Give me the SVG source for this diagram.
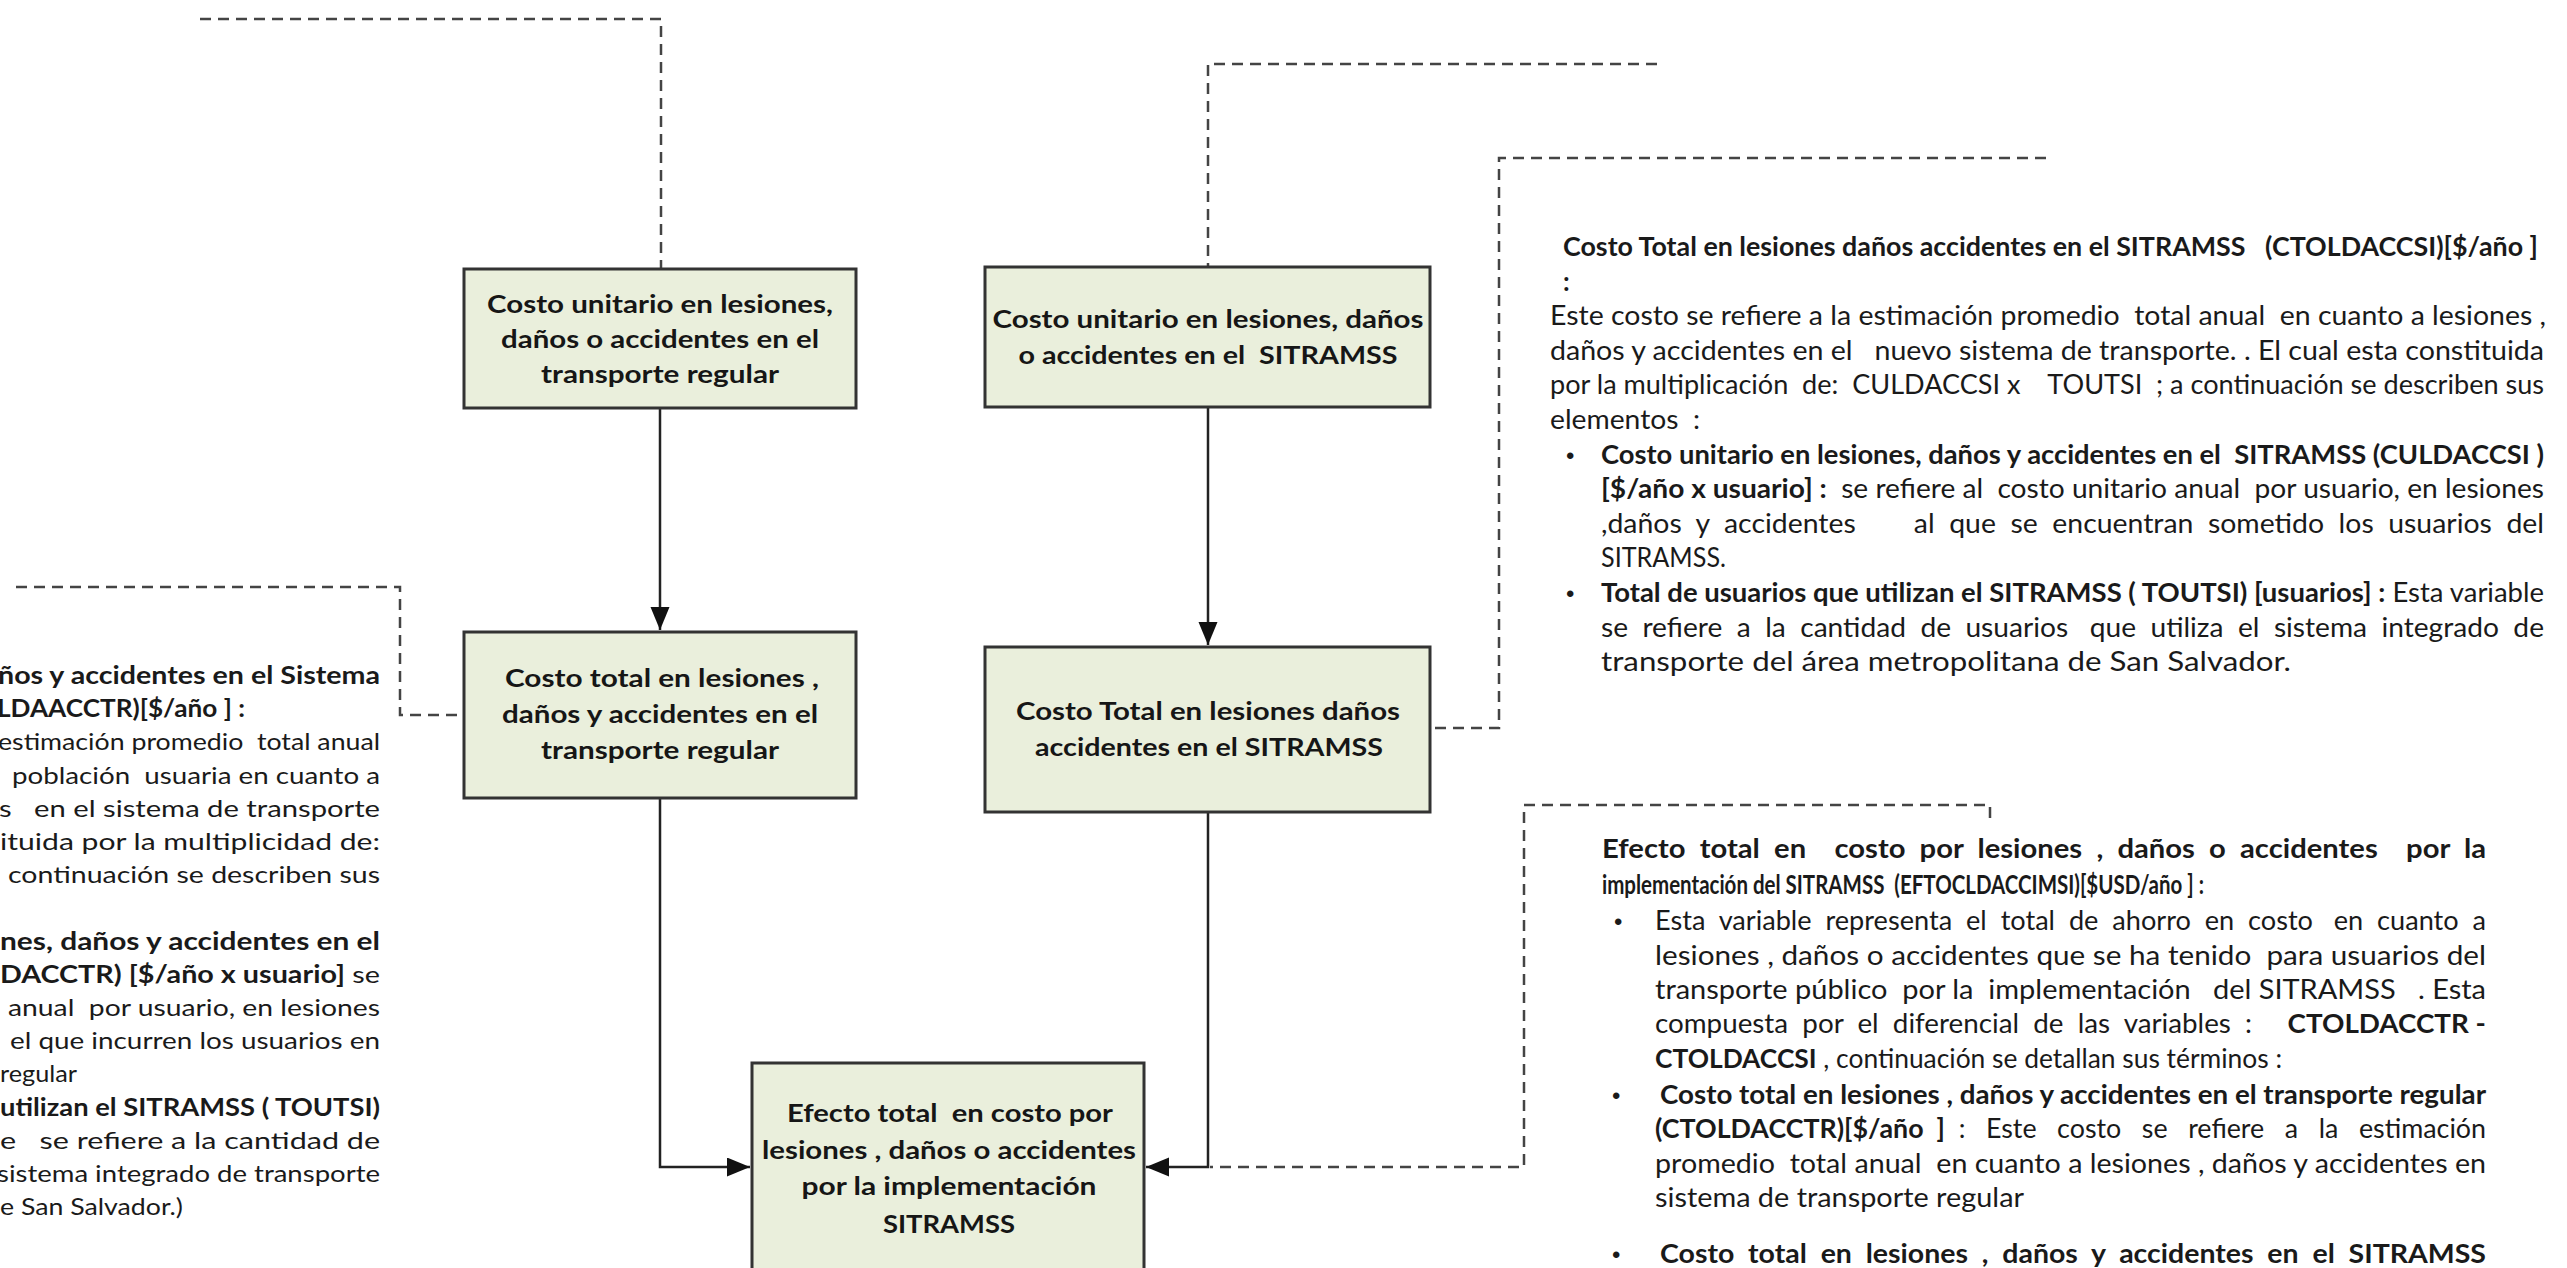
<svg xmlns="http://www.w3.org/2000/svg" width="2567" height="1268" viewBox="0 0 2567 1268">
  <style>
    text { white-space: pre; }
    .box { fill: #eaefdc; stroke: #333333; stroke-width: 3; }
    .bt { font-family: Lato, "Liberation Sans", sans-serif; font-weight: 700; font-size: 25px; fill: #161616; text-anchor: middle; }
    .tx { font-family: Lato, "Liberation Sans", sans-serif; font-size: 24px; fill: #1a1a1a; }
    .rt { font-family: Lato, "Liberation Sans", sans-serif; font-size: 26px; fill: #1a1a1a; }
    .b { font-weight: 700; }
    .blt { font-family: "Liberation Sans", sans-serif; font-size: 24px; fill: #1a1a1a; }
    .dash { fill: none; stroke: #444444; stroke-width: 2.5; stroke-dasharray: 11 7; }
    .solid { fill: none; stroke: #222222; stroke-width: 2.5; }
  </style>
  <defs>
    <marker id="arrow" markerUnits="userSpaceOnUse" markerWidth="24" markerHeight="20" refX="23" refY="9.5" orient="auto">
      <path d="M0,0 L23,9.5 L0,19 z" fill="#111111"/>
    </marker>
  </defs>
  <rect width="2567" height="1268" fill="#ffffff"/>

  <!-- connectors -->
  <g id="connectors">
    <path class="solid" d="M660,408 V630" marker-end="url(#arrow)"/>
    <path class="solid" d="M1208,407 V645" marker-end="url(#arrow)"/>
    <path class="solid" d="M660,798 V1167 H750" marker-end="url(#arrow)"/>
    <path class="solid" d="M1208,812 V1167 H1146" marker-end="url(#arrow)"/>
    <path class="dash" d="M200,19 H661 V269"/>
    <path class="dash" d="M1657,64 H1208 V267"/>
    <path class="dash" d="M2046,158 H1499 V728 H1430"/>
    <path class="dash" d="M16,587 H400 V715 H464"/>
    <path class="dash" d="M1990,818 V805 H1524 V1167 H1210"/>
  </g>

  <!-- nodes -->
  <g id="node-unit-regular">
    <rect class="box" x="464" y="269" width="392" height="139"/>
    <text class="bt" x="660" y="313" textLength="346" lengthAdjust="spacingAndGlyphs">Costo unitario en lesiones,</text>
    <text class="bt" x="660" y="348" textLength="318" lengthAdjust="spacingAndGlyphs">daños o accidentes en el</text>
    <text class="bt" x="660" y="383" textLength="238" lengthAdjust="spacingAndGlyphs">transporte regular</text>
  </g>
  <g id="node-total-regular">
    <rect class="box" x="464" y="632" width="392" height="166"/>
    <text class="bt" x="662" y="687" textLength="314" lengthAdjust="spacingAndGlyphs">Costo total en lesiones ,</text>
    <text class="bt" x="660" y="723" textLength="316" lengthAdjust="spacingAndGlyphs">daños y accidentes en el</text>
    <text class="bt" x="660" y="759" textLength="238" lengthAdjust="spacingAndGlyphs">transporte regular</text>
  </g>
  <g id="node-unit-sitramss">
    <rect class="box" x="985" y="267" width="445" height="140"/>
    <text class="bt" x="1208" y="328" textLength="431" lengthAdjust="spacingAndGlyphs">Costo unitario en lesiones, daños</text>
    <text class="bt" x="1208" y="364" textLength="379" lengthAdjust="spacingAndGlyphs">o accidentes en el  SITRAMSS</text>
  </g>
  <g id="node-total-sitramss">
    <rect class="box" x="985" y="647" width="445" height="165"/>
    <text class="bt" x="1208" y="720" textLength="384" lengthAdjust="spacingAndGlyphs">Costo Total en lesiones daños</text>
    <text class="bt" x="1209" y="756" textLength="348" lengthAdjust="spacingAndGlyphs">accidentes en el SITRAMSS</text>
  </g>
  <g id="node-effect">
    <rect class="box" x="752" y="1063" width="392" height="215"/>
    <text class="bt" x="950" y="1122" textLength="326" lengthAdjust="spacingAndGlyphs">Efecto total  en costo por</text>
    <text class="bt" x="949" y="1159" textLength="374" lengthAdjust="spacingAndGlyphs">lesiones , daños o accidentes</text>
    <text class="bt" x="949" y="1195" textLength="295" lengthAdjust="spacingAndGlyphs">por la implementación</text>
    <text class="bt" x="949" y="1233" textLength="132" lengthAdjust="spacingAndGlyphs">SITRAMSS</text>
  </g>

  <!-- description: total cost in regular transport (left) -->
  <g id="note-regular">
    <text class="tx b" x="-2" y="684" textLength="382" lengthAdjust="spacingAndGlyphs">ños y accidentes en el Sistema</text>
    <text class="tx b" x="-3" y="717" textLength="248" lengthAdjust="spacingAndGlyphs">LDAACCTR)[$/año ] :</text>
    <text class="tx" x="-2" y="750" textLength="382" lengthAdjust="spacingAndGlyphs">estimación promedio  total anual</text>
    <text class="tx" x="12" y="784" textLength="368" lengthAdjust="spacingAndGlyphs">población  usuaria en cuanto a</text>
    <text class="tx" x="-1" y="817" textLength="381" lengthAdjust="spacingAndGlyphs">s   en el sistema de transporte</text>
    <text class="tx" x="0" y="850" textLength="380" lengthAdjust="spacingAndGlyphs">ituida por la multiplicidad de:</text>
    <text class="tx" x="8" y="883" textLength="372" lengthAdjust="spacingAndGlyphs">continuación se describen sus</text>
    <text class="tx b" x="0" y="950" textLength="380" lengthAdjust="spacingAndGlyphs">nes, daños y accidentes en el</text>
    <text class="tx" x="0" y="983" textLength="380" lengthAdjust="spacingAndGlyphs"><tspan class="b">DACCTR) [$/año x usuario]</tspan> se</text>
    <text class="tx" x="8" y="1016" textLength="372" lengthAdjust="spacingAndGlyphs">anual  por usuario, en lesiones</text>
    <text class="tx" x="10" y="1049" textLength="370" lengthAdjust="spacingAndGlyphs">el que incurren los usuarios en</text>
    <text class="tx" x="0" y="1082" textLength="77" lengthAdjust="spacingAndGlyphs">regular</text>
    <text class="tx b" x="0" y="1116" textLength="380" lengthAdjust="spacingAndGlyphs">utilizan el SITRAMSS ( TOUTSI)</text>
    <text class="tx" x="0" y="1149" textLength="380" lengthAdjust="spacingAndGlyphs">e   se refiere a la cantidad de</text>
    <text class="tx" x="-3" y="1182" textLength="383" lengthAdjust="spacingAndGlyphs">sistema integrado de transporte</text>
    <text class="tx" x="0" y="1215" textLength="183" lengthAdjust="spacingAndGlyphs">e San Salvador.)</text>
  </g>

  <!-- description: total cost in SITRAMSS (right, top) -->
  <g id="note-sitramss">
    <text class="rt b" x="1563" y="256" textLength="975" lengthAdjust="spacingAndGlyphs">Costo Total en lesiones daños accidentes en el SITRAMSS   (CTOLDACCSI)[$/año ]</text>
    <text class="rt b" x="1563" y="291">:</text>
    <text class="rt" x="1550" y="325" textLength="996" lengthAdjust="spacingAndGlyphs">Este costo se refiere a la estimación promedio  total anual  en cuanto a lesiones ,</text>
    <text class="rt" x="1550" y="360" textLength="994" lengthAdjust="spacingAndGlyphs">daños y accidentes en el   nuevo sistema de transporte. . El cual esta constituida</text>
    <text class="rt" x="1550" y="394" textLength="994" lengthAdjust="spacingAndGlyphs">por la multiplicación  de:  CULDACCSI x    TOUTSI  ; a continuación se describen sus</text>
    <text class="rt" x="1550" y="429" textLength="150" lengthAdjust="spacingAndGlyphs">elementos  :</text>
    <text class="blt" x="1566" y="464">•</text>
    <text class="rt b" x="1601" y="464" textLength="943" lengthAdjust="spacingAndGlyphs">Costo unitario en lesiones, daños y accidentes en el  SITRAMSS (CULDACCSI )</text>
    <text class="rt" x="1601" y="498" textLength="943" lengthAdjust="spacingAndGlyphs"><tspan class="b">[$/año x usuario] :</tspan>  se refiere al  costo unitario anual  por usuario, en lesiones</text>
    <text class="rt" x="1601" y="533" textLength="943" lengthAdjust="spacingAndGlyphs">,daños  y  accidentes        al  que  se  encuentran  sometido  los  usuarios  del</text>
    <text class="rt" x="1601" y="567" textLength="125" lengthAdjust="spacingAndGlyphs">SITRAMSS.</text>
    <text class="blt" x="1566" y="602">•</text>
    <text class="rt" x="1601" y="602" textLength="943" lengthAdjust="spacingAndGlyphs"><tspan class="b">Total de usuarios que utilizan el SITRAMSS ( TOUTSI) [usuarios] :</tspan> Esta variable</text>
    <text class="rt" x="1601" y="637" textLength="943" lengthAdjust="spacingAndGlyphs">se  refiere  a  la  cantidad  de  usuarios   que  utiliza  el  sistema  integrado  de</text>
    <text class="rt" x="1601" y="671" textLength="690" lengthAdjust="spacingAndGlyphs">transporte del área metropolitana de San Salvador.</text>
  </g>

  <!-- description: total effect (right, bottom) -->
  <g id="note-effect">
    <text class="rt b" x="1602" y="858" textLength="884" lengthAdjust="spacingAndGlyphs">Efecto  total  en    costo  por  lesiones  ,  daños  o  accidentes    por  la</text>
    <text class="rt b" x="1602" y="894" textLength="602" lengthAdjust="spacingAndGlyphs">implementación del SITRAMSS  (EFTOCLDACCIMSI)[$USD/año ] :</text>
    <text class="blt" x="1614" y="930">•</text>
    <text class="rt" x="1655" y="930" textLength="831" lengthAdjust="spacingAndGlyphs">Esta  variable  representa  el  total  de  ahorro  en  costo   en  cuanto  a</text>
    <text class="rt" x="1655" y="965" textLength="831" lengthAdjust="spacingAndGlyphs">lesiones , daños o accidentes que se ha tenido  para usuarios del</text>
    <text class="rt" x="1655" y="999" textLength="831" lengthAdjust="spacingAndGlyphs">transporte público  por la  implementación   del SITRAMSS   . Esta</text>
    <text class="rt" x="1655" y="1033" textLength="831" lengthAdjust="spacingAndGlyphs">compuesta  por  el  diferencial  de  las  variables  :     <tspan class="b">CTOLDACCTR -</tspan></text>
    <text class="rt" x="1655" y="1068" textLength="627" lengthAdjust="spacingAndGlyphs"><tspan class="b">CTOLDACCSI</tspan> , continuación se detallan sus términos :</text>
    <text class="blt" x="1612" y="1104">•</text>
    <text class="rt b" x="1660" y="1104" textLength="826" lengthAdjust="spacingAndGlyphs">Costo total en lesiones , daños y accidentes en el transporte regular</text>
    <text class="rt" x="1655" y="1138" textLength="831" lengthAdjust="spacingAndGlyphs"><tspan class="b">(CTOLDACCTR)[$/año  ]</tspan>  :   Este   costo   se   refiere   a   la   estimación</text>
    <text class="rt" x="1655" y="1173" textLength="831" lengthAdjust="spacingAndGlyphs">promedio  total anual  en cuanto a lesiones , daños y accidentes en</text>
    <text class="rt" x="1655" y="1207" textLength="369" lengthAdjust="spacingAndGlyphs">sistema de transporte regular</text>
    <text class="blt" x="1612" y="1263">•</text>
    <text class="rt b" x="1660" y="1263" textLength="826" lengthAdjust="spacingAndGlyphs">Costo  total  en  lesiones  ,  daños  y  accidentes  en  el  SITRAMSS</text>
  </g>
</svg>
